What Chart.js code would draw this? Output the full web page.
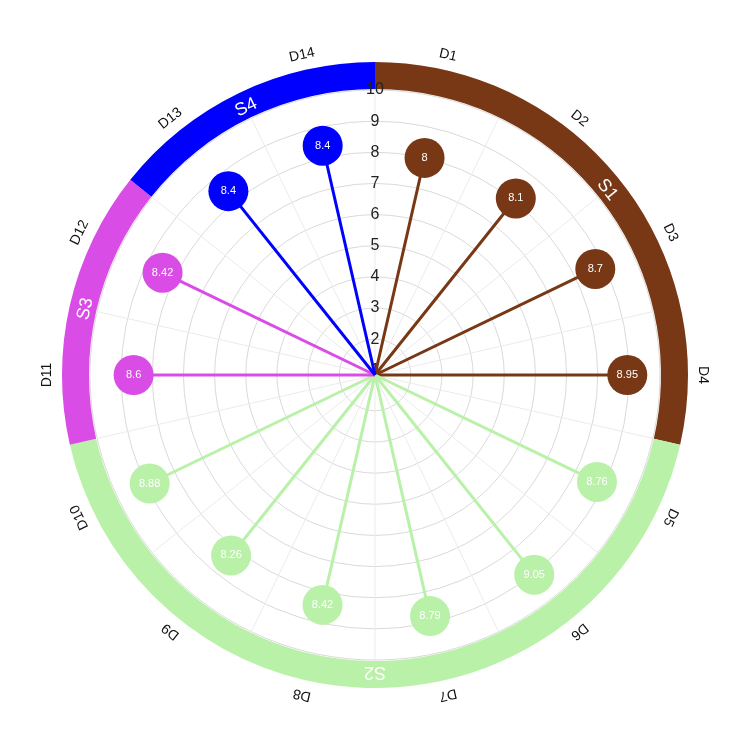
<!DOCTYPE html>
<html lang="en">
<head>
    <meta charset="UTF-8">
    <title>Radial lollipop</title>
    <style>
        body { margin: 0; background: #fff; }
        #wrap { width: 750px; height: 750px; }
    </style>
    <script src="https://cdn.jsdelivr.net/npm/chart.js"></script>
</head>
<body>
    <div id="wrap">
        <canvas id="radial" width="750" height="750"></canvas>
    </div>

    <script>
        // data
        const categories = ['D1', 'D2', 'D3', 'D4', 'D5', 'D6', 'D7', 'D8', 'D9', 'D10', 'D11', 'D12', 'D13', 'D14'];
        const values = [8, 8.1, 8.7, 8.95, 8.76, 9.05, 8.79, 8.42, 8.26, 8.88, 8.6, 8.42, 8.4, 8.4];
        const groupNames = ['S1', 'S2', 'S3', 'S4'];
        const groupSizes = [4, 6, 2, 2];
        const radialTicks = [1, 2, 3, 4, 5, 6, 7, 8, 9, 10];

        // styles
        const groupColors = ['#783815', '#b9f1a9', '#d94de6', '#0000ff'];
        const FONT = '"Liberation Sans", Arial, sans-serif';

        // colour of each category from its group
        const pointColors = [];
        groupSizes.forEach((n, g) => {
            for (let k = 0; k < n; k++) pointColors.push(groupColors[g]);
        });

        const half = Math.PI / categories.length;

        // canvas angle (0 = east) for a category index
        function canvasAngle(scale, i) {
            return scale.getIndexAngle(i) - Math.PI / 2;
        }

        function rotatedText(ctx, text, x, y, rot) {
            ctx.save();
            ctx.translate(x, y);
            ctx.rotate(rot);
            ctx.fillText(text, 0, 0);
            ctx.restore();
        }

        const decor = {
            id: 'decor',
            beforeDatasetsDraw(chart) {
                const ctx = chart.ctx;
                const s = chart.scales.r;
                const cx = s.xCenter, cy = s.yCenter, R = s.drawingArea;

                ctx.save();
                ctx.textAlign = 'center';
                ctx.textBaseline = 'middle';

                // angular grid lines on the category boundaries
                ctx.strokeStyle = '#ebebeb';
                ctx.lineWidth = 1;
                for (let i = 0; i < categories.length; i++) {
                    const a = canvasAngle(s, i) - half;
                    ctx.beginPath();
                    ctx.moveTo(cx, cy);
                    ctx.lineTo(cx + R * Math.cos(a), cy + R * Math.sin(a));
                    ctx.stroke();
                }

                // outer group ring + labels
                const rIn = R + 1, rOut = R + 28;
                let start = 0;
                groupSizes.forEach((n, g) => {
                    const a0 = canvasAngle(s, start) - half;
                    const a1 = canvasAngle(s, start + n - 1) + half;
                    ctx.beginPath();
                    ctx.arc(cx, cy, rOut, a0, a1);
                    ctx.arc(cx, cy, rIn, a1, a0, true);
                    ctx.closePath();
                    ctx.fillStyle = groupColors[g];
                    ctx.fill();

                    const mid = (a0 + a1) / 2;
                    const rm = rIn + 11;
                    ctx.fillStyle = '#fff';
                    ctx.font = '18px ' + FONT;
                    rotatedText(ctx, groupNames[g], cx + rm * Math.cos(mid), cy + rm * Math.sin(mid), mid + Math.PI / 2);
                    start += n;
                });

                // category labels outside the ring
                ctx.fillStyle = '#111';
                ctx.font = '14px ' + FONT;
                const rl = R + 43;
                categories.forEach((c, i) => {
                    const a = canvasAngle(s, i);
                    rotatedText(ctx, c, cx + rl * Math.cos(a), cy + rl * Math.sin(a), a + Math.PI / 2);
                });

                // radial tick labels up the vertical axis (on top of the ring)
                ctx.fillStyle = '#222';
                ctx.font = '16px ' + FONT;
                radialTicks.forEach(v => {
                    ctx.fillText(String(v), cx, cy - s.getDistanceFromCenterForValue(v));
                });

                // stems from the centre to each point
                ctx.lineWidth = 3;
                values.forEach((v, i) => {
                    const p = s.getPointPositionForValue(i, v);
                    ctx.strokeStyle = pointColors[i];
                    ctx.beginPath();
                    ctx.moveTo(cx, cy);
                    ctx.lineTo(p.x, p.y);
                    ctx.stroke();
                });

                ctx.restore();
            },
            afterDatasetsDraw(chart) {
                const ctx = chart.ctx;
                const s = chart.scales.r;
                ctx.save();
                ctx.fillStyle = '#fff';
                ctx.font = '11px ' + FONT;
                ctx.textAlign = 'center';
                ctx.textBaseline = 'middle';
                values.forEach((v, i) => {
                    const p = s.getPointPositionForValue(i, v);
                    ctx.fillText(String(v), p.x, p.y);
                });
                ctx.restore();
            }
        };

        new Chart(document.getElementById('radial'), {
            type: 'radar',
            data: {
                labels: categories,
                datasets: [{
                    data: values,
                    showLine: false,
                    fill: false,
                    borderWidth: 0,
                    backgroundColor: 'rgba(0,0,0,0)',
                    pointRadius: 20,
                    pointHoverRadius: 20,
                    pointBorderWidth: 0,
                    pointBackgroundColor: pointColors
                }]
            },
            options: {
                responsive: false,
                animation: false,
                events: [],
                layout: { padding: 90 },
                plugins: {
                    legend: { display: false },
                    tooltip: { enabled: false }
                },
                scales: {
                    r: {
                        min: 0.85,
                        max: 10,
                        startAngle: 180 / categories.length,
                        afterBuildTicks: scale => {
                            scale.ticks = [scale.min].concat(radialTicks).map(v => ({ value: v }));
                        },
                        ticks: { display: false },
                        grid: { circular: true, color: '#d9d9d9', lineWidth: 1 },
                        angleLines: { display: false },
                        pointLabels: { display: false }
                    }
                }
            },
            plugins: [decor]
        });
    </script>
</body>
</html>
